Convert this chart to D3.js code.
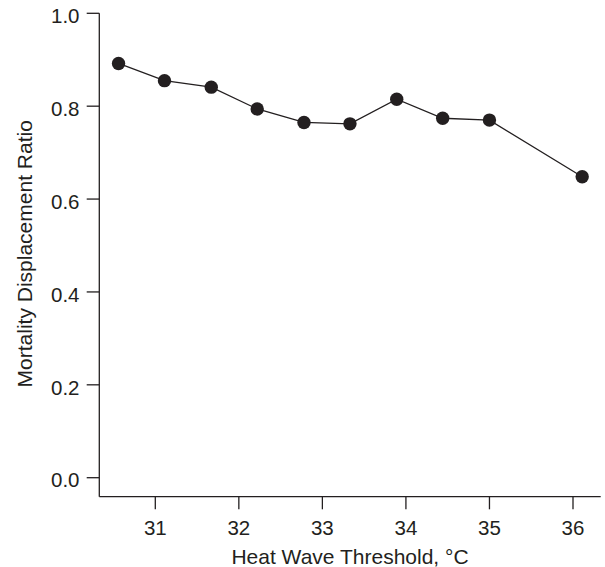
<!DOCTYPE html>
<html>
<head>
<meta charset="utf-8">
<script src="https://cdn.jsdelivr.net/npm/d3@7"></script>
<style>
  html, body { margin: 0; padding: 0; background: #fff; }
  svg { display: block; }
  text { font-family: "Liberation Sans", Arial, Helvetica, sans-serif; fill: #231f20; }
</style>
</head>
<body>
<svg id="chart" width="605" height="567"></svg>
<script>
// Data
const thresholds = [30.56, 31.11, 31.67, 32.22, 32.78, 33.33, 33.89, 34.44, 35.00, 36.11];
const ratios     = [0.892, 0.855, 0.841, 0.794, 0.765, 0.762, 0.815, 0.774, 0.770, 0.648];
const xTicks = [31, 32, 33, 34, 35, 36];
const yTicks = [0.0, 0.2, 0.4, 0.6, 0.8, 1.0];
const xTitle = "Heat Wave Threshold, \u00B0C";
const yTitle = "Mortality Displacement Ratio";

const svg = d3.select("#chart");
const ink = "#231f20";
const axisX0 = 99.3, axisX1 = 600.7;   // x axis line extent
const axisY0 = 13.3, axisY1 = 496.7;   // y axis line extent

const x = d3.scaleLinear().domain([31, 36]).range([155.3, 573]);
const y = d3.scaleLinear().domain([0, 1]).range([477.7, 13.3]);

// Axis lines
svg.append("line").attr("x1", axisX0).attr("x2", axisX0).attr("y1", axisY0).attr("y2", axisY1)
  .attr("stroke", ink).attr("stroke-width", 1.3);
svg.append("line").attr("x1", axisX0).attr("x2", axisX1).attr("y1", axisY1).attr("y2", axisY1)
  .attr("stroke", ink).attr("stroke-width", 1.3);

// Y ticks
const yt = svg.append("g");
yt.selectAll("line").data(yTicks).join("line")
  .attr("x1", axisX0 - 12.6).attr("x2", axisX0)
  .attr("y1", d => y(d)).attr("y2", d => y(d))
  .attr("stroke", ink).attr("stroke-width", 1.3);
yt.selectAll("text").data(yTicks).join("text")
  .attr("x", 79.5).attr("y", d => y(d) + 9.7)
  .attr("text-anchor", "end").attr("font-size", 20.5)
  .text(d => d3.format(".1f")(d));

// X ticks
const xt = svg.append("g");
xt.selectAll("line").data(xTicks).join("line")
  .attr("x1", d => x(d)).attr("x2", d => x(d))
  .attr("y1", axisY1).attr("y2", axisY1 + 12.6)
  .attr("stroke", ink).attr("stroke-width", 1.3);
xt.selectAll("text").data(xTicks).join("text")
  .attr("x", d => x(d)).attr("y", 535)
  .attr("text-anchor", "middle").attr("font-size", 20.5)
  .text(d => d);

// Titles
svg.append("text").attr("x", 350).attr("y", 564).attr("text-anchor", "middle")
  .attr("font-size", 21).text(xTitle);
svg.append("text").attr("transform", "translate(32.3,253.8) rotate(-90)")
  .attr("text-anchor", "middle").attr("font-size", 21).text(yTitle);

// Line and points
const pts = thresholds.map((t, i) => [t, ratios[i]]);
svg.append("path").datum(pts)
  .attr("d", d3.line().x(d => x(d[0])).y(d => y(d[1])))
  .attr("fill", "none").attr("stroke", ink).attr("stroke-width", 1.3);
svg.selectAll("circle.pt").data(pts).join("circle")
  .attr("class", "pt")
  .attr("cx", d => x(d[0])).attr("cy", d => y(d[1])).attr("r", 6.7)
  .attr("fill", ink);
</script>
</body>
</html>
